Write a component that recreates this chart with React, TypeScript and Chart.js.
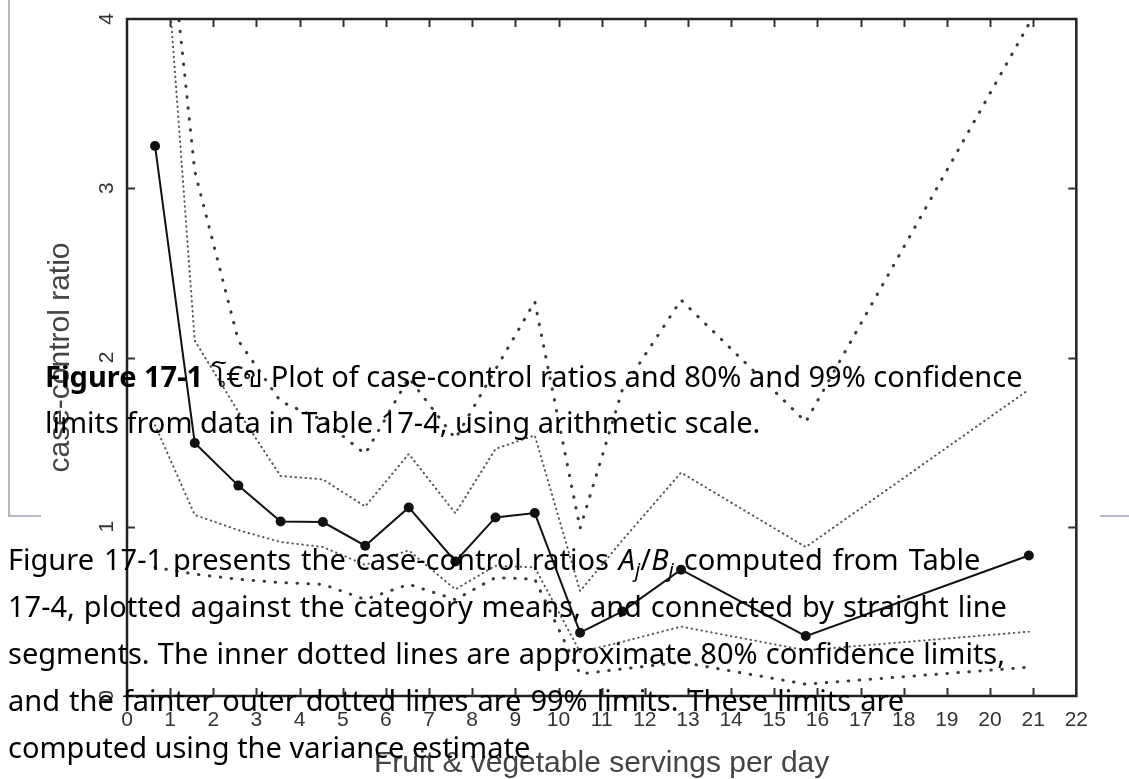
import React, { useEffect, useRef } from "react";
import { Chart, registerables } from "chart.js";

Chart.register(...registerables);

// Category means (fruit & vegetable servings per day)
const xMeans = [0.65, 1.57, 2.58, 3.56, 4.54, 5.52, 6.53, 7.61, 8.54, 9.45, 10.5, 11.48, 12.84, 15.73, 20.9];
// Case-control ratios A_j / B_j
const ratios = [3.25, 1.495, 1.243, 1.031, 1.028, 0.888, 1.114, 0.795, 1.055, 1.081, 0.374, 0.5, 0.746, 0.354, 0.83];
// 80% confidence limits (inner dotted lines)
const upper80 = [5.28, 2.1, 1.68, 1.3, 1.28, 1.12, 1.43, 1.08, 1.46, 1.54, 0.62, 0.92, 1.32, 0.88, 1.81];
const lower80 = [1.6, 1.07, 0.98, 0.91, 0.88, 0.775, 0.86, 0.63, 0.77, 0.76, 0.26, 0.32, 0.41, 0.27, 0.38];
// 99% confidence limits (outer dotted lines)
const upper99 = [5.35, 3.1, 2.1, 1.74, 1.63, 1.43, 1.88, 1.52, 1.93, 2.33, 0.99, 1.81, 2.34, 1.62, 3.97];
const lower99 = [0.76, 0.72, 0.69, 0.67, 0.66, 0.57, 0.66, 0.57, 0.7, 0.69, 0.13, 0.16, 0.2, 0.07, 0.17];

const xTitle = "Fruit & vegetable servings per day";
const yTitle = "case-control ratio";

const captionLines = [
  ["Figure 17-1", " \u0E42\u20AC\u0E02 Plot of case-control ratios and 80% and 99% confidence"],
  ["", "limits from data in Table 17-4, using arithmetic scale."],
];
const paraLines = [
  "17-4, plotted against the category means, and connected by straight line",
  "segments. The inner dotted lines are approximate 80% confidence limits,",
  "and the fainter outer dotted lines are 99% limits. These limits are",
  "computed using the variance estimate",
];
const paraWordSpacing = [1.4, 0.7, 1.5, 0];

const AXIS_FONT = '"Liberation Sans", Arial, Helvetica, sans-serif';
const TEXT_FONT = '"Noto Sans", "Open Sans", "DejaVu Sans", sans-serif';
const TICK = 8;

const toPts = (ys: number[]) => xMeans.map((x, i) => ({ x, y: ys[i] }));

const framePlugin = {
  id: "scanFrame",
  afterDraw(chart: any) {
    const { ctx, chartArea: a } = chart;
    const xs = chart.scales.x;
    const ys = chart.scales.y;
    ctx.save();
    ctx.strokeStyle = "#222";
    ctx.lineWidth = 2.5;
    ctx.strokeRect(a.left, a.top, a.right - a.left, a.bottom - a.top);
    ctx.lineWidth = 2;
    ctx.strokeStyle = "#333";
    ctx.beginPath();
    for (const t of xs.ticks) {
      if (t.value <= xs.min || t.value >= xs.max) continue;
      const px = Math.round(xs.getPixelForValue(t.value)) + 0.5;
      ctx.moveTo(px, a.top);
      ctx.lineTo(px, a.top + TICK);
      ctx.moveTo(px, a.bottom);
      ctx.lineTo(px, a.bottom - TICK);
    }
    for (const t of ys.ticks) {
      if (t.value <= ys.min || t.value >= ys.max) continue;
      const py = Math.round(ys.getPixelForValue(t.value)) + 0.5;
      ctx.moveTo(a.left, py);
      ctx.lineTo(a.left + TICK, py);
      ctx.moveTo(a.right, py);
      ctx.lineTo(a.right - TICK, py);
    }
    ctx.stroke();
    // rotated y tick labels
    ctx.fillStyle = "#333";
    ctx.font = `21px ${AXIS_FONT}`;
    ctx.textAlign = "center";
    ctx.textBaseline = "middle";
    for (const t of ys.ticks) {
      const py = ys.getPixelForValue(t.value);
      ctx.save();
      ctx.translate(a.left - 20, py);
      ctx.rotate(-Math.PI / 2);
      ctx.fillText(String(t.value), 0, 0);
      ctx.restore();
    }
    ctx.restore();
  },
};

export default function App() {
  const ref = useRef<HTMLCanvasElement>(null);

  useEffect(() => {
    if (!ref.current) return;
    const dotted80 = {
      borderColor: "#555",
      borderWidth: 2,
      borderDash: [0.5, 4.5],
      borderCapStyle: "round",
      pointRadius: 0,
      fill: false,
      tension: 0,
    };
    const dotted99 = {
      borderColor: "#3a3a3a",
      borderWidth: 3,
      borderDash: [0.5, 10.5],
      borderCapStyle: "round",
      pointRadius: 0,
      fill: false,
      tension: 0,
    };
    const chart = new Chart(ref.current, {
      type: "line",
      data: {
        datasets: [
          { label: "99% upper", data: toPts(upper99), ...dotted99 } as any,
          { label: "99% lower", data: toPts(lower99), ...dotted99 } as any,
          { label: "80% upper", data: toPts(upper80), ...dotted80 } as any,
          { label: "80% lower", data: toPts(lower80), ...dotted80 } as any,
          {
            label: "case-control ratio",
            data: toPts(ratios),
            borderColor: "#111",
            borderWidth: 2,
            pointRadius: 5,
            pointBackgroundColor: "#111",
            pointBorderWidth: 0,
            fill: false,
            tension: 0,
          },
        ],
      },
      options: {
        responsive: false,
        animation: false,
        devicePixelRatio: 1,
        layout: { padding: { top: 19, right: 23, bottom: 0, left: 0 } },
        plugins: { legend: { display: false }, tooltip: { enabled: false } },
        scales: {
          x: {
            type: "linear",
            min: 0,
            max: 22,
            afterFit: (s: any) => {
              s.height = 83;
            },
            grid: { display: false, drawTicks: false },
            border: { display: false },
            ticks: {
              stepSize: 1,
              autoSkip: false,
              maxRotation: 0,
              minRotation: 0,
              padding: 12,
              color: "#333",
              font: { family: AXIS_FONT, size: 21 },
            },
            title: {
              display: true,
              text: xTitle,
              color: "#444",
              font: { family: AXIS_FONT, size: 30, lineHeight: 1 },
              padding: { top: 0, bottom: 0 },
            },
          },
          y: {
            type: "linear",
            min: 0,
            max: 4,
            afterFit: (s: any) => {
              s.width = 86;
            },
            grid: { display: false, drawTicks: false },
            border: { display: false },
            ticks: { display: false, stepSize: 1 },
            title: {
              display: true,
              text: yTitle,
              color: "#444",
              font: { family: AXIS_FONT, size: 30, lineHeight: 1 },
              padding: { top: 5, bottom: 0 },
            },
          },
        },
      } as any,
      plugins: [framePlugin],
    });
    return () => chart.destroy();
  }, []);

  const textBase: React.CSSProperties = {
    position: "absolute",
    fontFamily: TEXT_FONT,
    fontSize: 29,
    whiteSpace: "nowrap",
    color: "#000",
  };

  return (
    <div
      style={{
        position: "absolute",
        left: 0,
        top: 0,
        width: 1129,
        height: 779,
        overflow: "hidden",
        background: "#fff",
      }}
    >
      <div
        style={{
          position: "absolute",
          left: 8,
          top: -20,
          width: 1300,
          height: 535,
          borderLeft: "2px solid #b8b8c2",
          borderBottom: "2px solid #b8b8c2",
        }}
      />
      <canvas
        ref={ref}
        width={1059}
        height={779}
        style={{ position: "absolute", left: 41, top: 0, width: 1059, height: 779, background: "#fff" }}
      />
      {captionLines.map((ln, i) => (
        <div key={"c" + i} style={{ ...textBase, left: 45, top: 353 + i * 46, height: 46, lineHeight: "46px" }}>
          {ln[0] ? <b>{ln[0]}</b> : null}
          {ln[1]}
        </div>
      ))}
      <div style={{ ...textBase, left: 8, top: 535, height: 47, lineHeight: "47px", wordSpacing: 2.4 }}>
        Figure 17-1 presents the case-control ratios{" "}
        <i>
          A<sub style={{ fontSize: "0.7em", lineHeight: 0 }}>j</sub>
        </i>
        /
        <i>
          B<sub style={{ fontSize: "0.7em", lineHeight: 0 }}>j</sub>
        </i>{" "}
        computed from Table
      </div>
      {paraLines.map((t, i) => (
        <div
          key={"p" + i}
          style={{
            ...textBase,
            left: 8,
            top: 582 + i * 47,
            height: 47,
            lineHeight: "47px",
            wordSpacing: paraWordSpacing[i],
          }}
        >
          {t}
        </div>
      ))}
    </div>
  );
}
